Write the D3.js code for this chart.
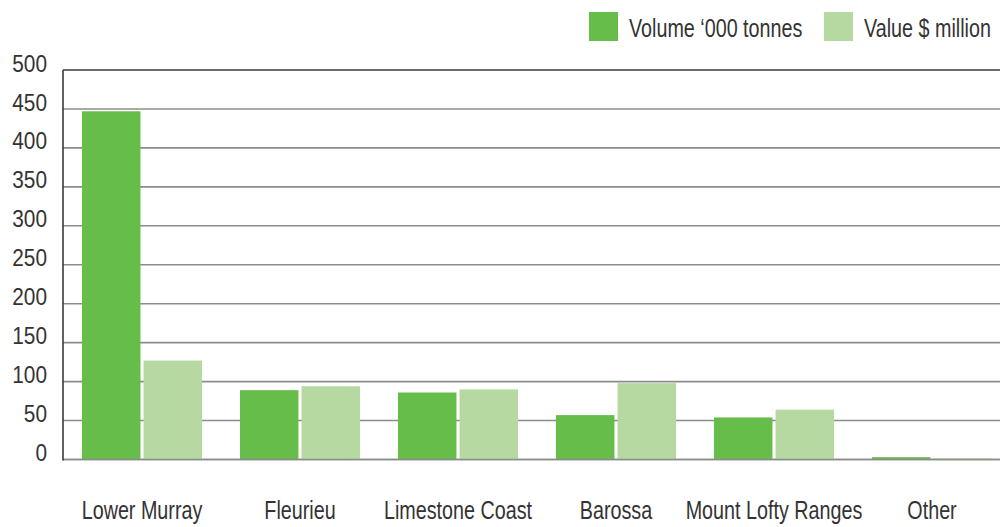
<!DOCTYPE html>
<html><head><meta charset="utf-8">
<script src="https://cdn.jsdelivr.net/npm/d3@7"></script>
<style>
body{margin:0;background:#fff;}
text{font-family:"Liberation Sans",Arial,sans-serif;fill:#333;}
</style></head><body>
<svg id="c" width="1002" height="527"></svg>
<script>
const categories = ["Lower Murray","Fleurieu","Limestone Coast","Barossa","Mount Lofty Ranges","Other"];
const volume = [447, 89, 86, 57, 54, 3];
const value = [127, 94, 90, 98, 64, 1.5];
const seriesNames = ["Volume \u2018000 tonnes","Value $ million"];
const yTicks = [0,50,100,150,200,250,300,350,400,450,500];
const colors = ["#67bd4a","#b5d9a0"];

const svg = d3.select("#c");
const axisX = 63, gridRight = 1000;
const y = d3.scaleLinear().domain([0,500]).range([459.5,70]);
const x = d3.scaleBand().domain(categories).range([63,1011]).paddingInner(0.24).paddingOuter(0.12);
const sub = d3.scaleBand().domain([0,1]).range([0,x.bandwidth()]).paddingInner(0.05);
const sxLab = 0.79, sxNum = 0.85;

// grid
svg.append("g").selectAll("line").data(yTicks).join("line")
  .attr("x1",axisX).attr("x2",gridRight)
  .attr("y1",d=>y(d)).attr("y2",d=>y(d))
  .attr("stroke",d=>d===500?"#3a3a3a":"#8c8c8c").attr("stroke-width",1.6);

// bars
const series = [volume,value];
const g = svg.append("g");
series.forEach((arr,si)=>{
  g.selectAll(".b"+si).data(arr).join("rect")
    .attr("x",(d,i)=>x(categories[i])+sub(si))
    .attr("width",sub.bandwidth())
    .attr("y",d=>y(d)).attr("height",d=>y(0)-y(d))
    .attr("fill",colors[si]);
});

// baseline & axis line
svg.append("line").attr("x1",axisX).attr("x2",gridRight).attr("y1",y(0)).attr("y2",y(0)).attr("stroke","#8c8c8c").attr("stroke-width",1.6);
svg.append("line").attr("x1",axisX).attr("x2",axisX).attr("y1",y(500)).attr("y2",y(0)+1).attr("stroke","#3a3a3a").attr("stroke-width",1.6);

// y labels
svg.append("g").selectAll("text").data(yTicks).join("text")
  .attr("transform",d=>`translate(47,${y(d)-7}) scale(${sxNum},1)`)
  .attr("dy","0.35em")
  .attr("text-anchor","end").attr("font-size",24.5).text(d=>d);

// x labels
svg.append("g").selectAll("text").data(categories).join("text")
  .attr("transform",d=>`translate(${x(d)+x.bandwidth()/2},510) scale(${sxLab},1)`)
  .attr("dy","0.35em")
  .attr("text-anchor","middle").attr("font-size",25).text(d=>d);

// legend
const legX = [589,824];
const lg = svg.append("g");
seriesNames.forEach((n,i)=>{
  lg.append("rect").attr("x",legX[i]).attr("y",12).attr("width",29).attr("height",29).attr("fill",colors[i]);
  lg.append("text").attr("transform",`translate(${legX[i]+40},28) scale(${sxLab},1)`)
    .attr("dy","0.35em").attr("font-size",25).text(n);
});
</script>
</body></html>
